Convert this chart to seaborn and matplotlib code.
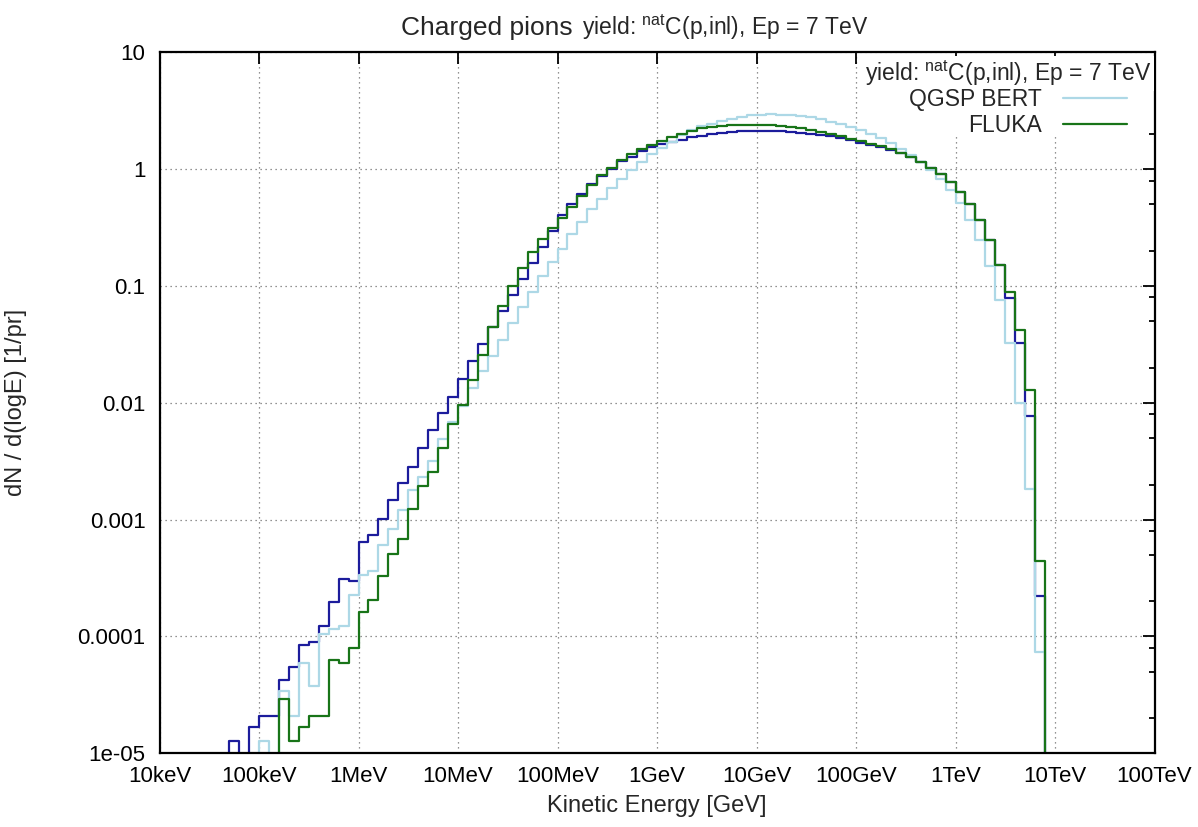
import numpy as np
import pandas as pd
import matplotlib
matplotlib.use("Agg")
import matplotlib.pyplot as plt
import seaborn as sns
from matplotlib.lines import Line2D
from matplotlib.ticker import FixedLocator, FixedFormatter, NullFormatter, NullLocator

# Spectra dN/d(logE) [1/pr], 10 bins per decade of kinetic energy.
# Every list starts with the bin 10^-4.3 .. 10^-4.2 GeV (k = 7 counted from 10 keV).
first_bin = 7

yield_default = [  # dark blue curve (no key entry)
    1.27e-5, 0.0, 1.68e-5, 2.10e-5, 2.10e-5, 4.22e-5, 5.48e-5, 8.51e-5, 8.91e-5, 1.23e-4,
    1.99e-4, 3.10e-4, 2.99e-4, 6.40e-4, 7.35e-4, 1.01e-3, 1.46e-3, 2.07e-3, 2.82e-3, 4.10e-3,
    5.82e-3, 8.18e-3, 1.13e-2, 1.61e-2, 2.30e-2, 3.17e-2, 4.46e-2, 6.11e-2, 8.32e-2, 0.116,
    0.158, 0.217, 0.296, 0.403, 0.500, 0.617, 0.752, 0.879, 1.01, 1.17,
    1.27, 1.43, 1.55, 1.63, 1.71, 1.79, 1.88, 1.93, 1.99, 2.04,
    2.08, 2.11, 2.12, 2.14, 2.14, 2.12, 2.09, 2.05, 2.01, 1.96,
    1.91, 1.85, 1.77, 1.69, 1.62, 1.55, 1.47, 1.37, 1.27, 1.15,
    1.03, 0.912, 0.771, 0.638, 0.507, 0.365, 0.249, 0.152, 0.0794, 0.0327,
    7.74e-3, 2.24e-4,
]

yield_qgsp_bert = [
    0.0, 0.0, 0.0, 1.27e-5, 0.0, 3.39e-5, 2.10e-5, 5.97e-5, 3.77e-5, 1.06e-4,
    1.15e-4, 1.23e-4, 2.25e-4, 3.38e-4, 3.61e-4, 6.03e-4, 8.26e-4, 1.22e-3, 1.81e-3, 2.32e-3,
    3.18e-3, 4.86e-3, 6.84e-3, 9.33e-3, 1.35e-2, 1.87e-2, 2.52e-2, 3.43e-2, 4.82e-2, 6.61e-2,
    8.89e-2, 0.121, 0.160, 0.208, 0.277, 0.355, 0.453, 0.560, 0.690, 0.824,
    0.977, 1.15, 1.36, 1.53, 1.71, 1.95, 2.15, 2.36, 2.42, 2.57,
    2.70, 2.81, 2.91, 2.94, 2.96, 2.94, 2.91, 2.85, 2.78, 2.67,
    2.55, 2.42, 2.30, 2.15, 2.01, 1.86, 1.69, 1.50, 1.33, 1.15,
    0.991, 0.830, 0.668, 0.513, 0.370, 0.246, 0.149, 0.0757, 0.0327, 9.93e-3,
    1.83e-3, 7.35e-5,
]

yield_fluka = [
    0.0, 0.0, 0.0, 0.0, 0.0, 2.94e-5, 1.27e-5, 1.68e-5, 2.10e-5, 2.10e-5,
    6.34e-5, 5.93e-5, 7.98e-5, 1.62e-4, 2.04e-4, 3.31e-4, 5.12e-4, 6.79e-4, 1.24e-3, 1.94e-3,
    2.56e-3, 4.13e-3, 6.55e-3, 9.51e-3, 1.56e-2, 2.55e-2, 4.46e-2, 6.79e-2, 0.101, 0.143,
    0.195, 0.251, 0.313, 0.385, 0.474, 0.586, 0.728, 0.885, 1.03, 1.19,
    1.34, 1.48, 1.62, 1.74, 1.88, 1.99, 2.12, 2.24, 2.30, 2.34,
    2.37, 2.39, 2.40, 2.39, 2.37, 2.34, 2.30, 2.24, 2.16, 2.08,
    2.00, 1.91, 1.82, 1.73, 1.65, 1.57, 1.48, 1.38, 1.27, 1.15,
    1.03, 0.912, 0.771, 0.638, 0.507, 0.365, 0.249, 0.152, 0.0881, 0.0422,
    0.0129, 4.47e-4,
]

x_tick_labels = ["10keV", "100keV", "1MeV", "10MeV", "100MeV", "1GeV",
                 "10GeV", "100GeV", "1TeV", "10TeV", "100TeV"]
y_tick_labels = ["1e-05", "0.0001", "0.001", "0.01", "0.1", "1", "10"]

title_main = "Charged pions"
reaction = "yield: $^{\\mathrm{nat}}$C(p,inl), Ep = 7 TeV"
series_names = ["QGSP BERT", "FLUKA"]

# ---- binning: 10 keV .. 100 TeV, 0.1 decade per bin (log10 GeV units)
n_decades = 10
bins_per_decade = 10
log_lo = -5.0
n_bins = len(yield_default)
centers = 10 ** (log_lo + (first_bin + np.arange(n_bins) + 0.5) / bins_per_decade)

df = pd.DataFrame({
    "energy": np.tile(centers, 3),
    "dN": yield_default + yield_qgsp_bert + yield_fluka,
    "model": ["default"] * n_bins + ["QGSP BERT"] * n_bins + ["FLUKA"] * n_bins,
})

col_default = "#1c1c9c"
col_qgsp = "#add8e6"
col_fluka = "#187418"
lw = 1.6

sns.set_style("white")
plt.rcParams["font.family"] = ["Liberation Sans", "DejaVu Sans"]
plt.rcParams["mathtext.fontset"] = "custom"
plt.rcParams["mathtext.rm"] = "Liberation Sans"
plt.rcParams["mathtext.it"] = "Liberation Sans:italic"

W, H = 1198, 827
ax_l, ax_r, ax_t, ax_b = 159.5, 1154.5, 52.4, 753.3
fig = plt.figure(figsize=(W / 100, H / 100), dpi=100)
ax = fig.add_axes([ax_l / W, 1 - ax_b / H, (ax_r - ax_l) / W, (ax_b - ax_t) / H])

for name, color in [("default", col_default), ("QGSP BERT", col_qgsp), ("FLUKA", col_fluka)]:
    sns.histplot(
        data=df[df["model"] == name], x="energy", weights="dN",
        bins=n_decades * bins_per_decade, binrange=(log_lo, log_lo + n_decades),
        element="step", fill=False, log_scale=(True, False),
        color=color, linewidth=lw, ax=ax, legend=False,
    )

# empty bins drop straight to the bottom of the log axis
ax.set_yscale("log", nonpositive="clip")
ax.set_xlim(1e-5, 1e5)
ax.set_ylim(1e-5, 10)

xt = 10.0 ** np.arange(-5, 6)
ax.xaxis.set_major_locator(FixedLocator(xt))
ax.xaxis.set_major_formatter(FixedFormatter(x_tick_labels))
ax.xaxis.set_minor_locator(NullLocator())

yt = 10.0 ** np.arange(-5, 2)
ax.yaxis.set_major_locator(FixedLocator(yt))
ax.yaxis.set_major_formatter(FixedFormatter(y_tick_labels))
ym = np.concatenate([m * 10.0 ** np.arange(-5, 1) for m in (2, 5, 8)])
ax.yaxis.set_minor_locator(FixedLocator(ym))
ax.yaxis.set_minor_formatter(NullFormatter())

ax.tick_params(which="both", direction="in", top=True, right=True, width=1.3,
               labelsize=16, colors="black")
ax.tick_params(axis="x", which="major", pad=9)
ax.tick_params(axis="y", which="major", pad=10)
ax.tick_params(which="major", length=8.5)
ax.tick_params(which="minor", length=4.5)

ax.grid(True, which="major", color="#707070", linestyle=(0, (1, 3)), linewidth=0.9)
for s in ax.spines.values():
    s.set_linewidth(1.6)
    s.set_color("black")

ax.set_ylabel("")
ax.set_xlabel("Kinetic Energy [GeV]", fontsize=17)
ax.xaxis.set_label_coords(0.5, (ax_b - 795) / (ax_b - ax_t))
fig.text(16 / W, 1 - (ax_t + ax_b) / 2 / H, "dN / d(logE) [1/pr]", fontsize=17,
         rotation=90, ha="center", va="center")

# key: heading line, then the two labelled curves
ax.text((1151 - ax_l) / (ax_r - ax_l), (ax_b - 81) / (ax_b - ax_t), reaction,
        transform=ax.transAxes, ha="right", va="baseline", fontsize=16.5,
        bbox=dict(facecolor="white", edgecolor="none", pad=2))
handles = [Line2D([], [], color=col_qgsp, linewidth=lw),
           Line2D([], [], color=col_fluka, linewidth=lw)]
ax.legend(handles, series_names, loc="upper right",
          bbox_to_anchor=((1127 - ax_l) / (ax_r - ax_l), (ax_b - 88) / (ax_b - ax_t)),
          markerfirst=False, frameon=True, framealpha=1.0, edgecolor="none",
          facecolor="white", fontsize=16.5, handlelength=2.8, handletextpad=0.9,
          labelspacing=0.12, borderpad=0.0, borderaxespad=0.0, fancybox=False)

fig.text(0.478, 1 - 35 / H, title_main, fontsize=19, ha="right", va="baseline")
fig.text(0.486, 1 - 35 / H, reaction, fontsize=16.5, ha="left", va="baseline")

fig.savefig("out.png", dpi=100)
